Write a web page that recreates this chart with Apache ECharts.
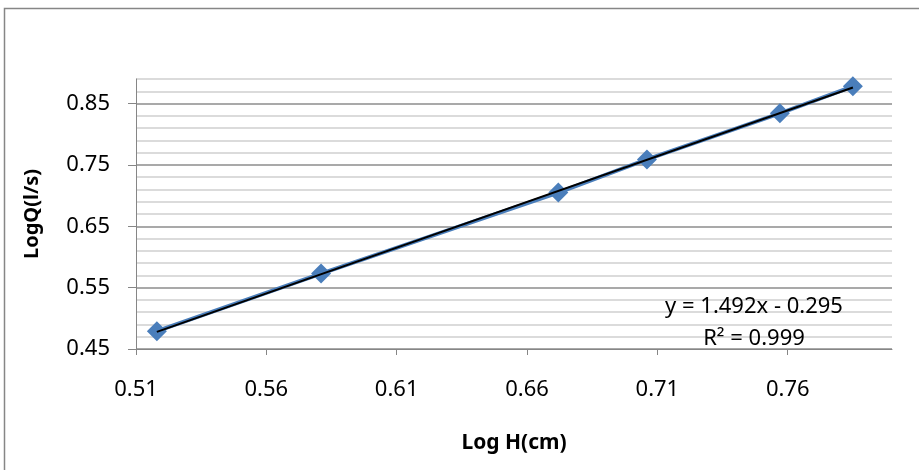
<!DOCTYPE html>
<html>
<head>
<meta charset="utf-8">
<title>LogQ vs Log H</title>
<script src="https://cdn.jsdelivr.net/npm/echarts@6/dist/echarts.min.js"></script>
<style>
  html, body { margin: 0; padding: 0; background: #fff; }
  #chart { width: 919px; height: 470px; }
</style>
</head>
<body>
<div id="chart"></div>
<script>
// measured points
var logH = [0.518, 0.581, 0.672, 0.706, 0.757, 0.785]
var logQ = [0.479, 0.573, 0.705, 0.759, 0.834, 0.878]

// trendline from the sheet
var slope = 1.492
var intercept = -0.295
var rSquared = 0.999

// axis ticks
var xTicks = [0.51, 0.56, 0.61, 0.66, 0.71, 0.76]
var yTicks = [0.45, 0.55, 0.65, 0.75, 0.85]
var yMinor = [0.47, 0.49, 0.51, 0.53, 0.57, 0.59, 0.61, 0.63, 0.67, 0.69, 0.71, 0.73,
  0.77, 0.79, 0.81, 0.83, 0.87, 0.89]

var points = logH.map(function (x, i) { return [x, logQ[i]] })
var xFrom = Math.min.apply(null, logH)
var xTo = Math.max.apply(null, logH)
var trend = [[xFrom, slope * xFrom + intercept], [xTo, slope * xTo + intercept]]

var font = '"Noto Sans", "Open Sans", sans-serif'
var chart = echarts.init(document.getElementById('chart'))
chart.setOption({
  backgroundColor: '#fff',
  animation: false,
  grid: { left: 136, right: 27, top: 79, bottom: 121, outerBoundsMode: 'none' },
  xAxis: {
    type: 'value',
    min: 0.51,
    max: 0.80,
    name: 'Log H(cm)',
    nameLocation: 'middle',
    nameGap: 84,
    nameTextStyle: { color: '#000', fontSize: 21, fontWeight: 'bold', fontFamily: font },
    axisLine: { show: true, lineStyle: { color: '#868686', width: 1 } },
    axisTick: { show: true, inside: false, length: 6, customValues: xTicks, lineStyle: { color: '#868686' } },
    axisLabel: { customValues: xTicks, color: '#000', fontSize: 22, fontFamily: font, margin: 30,
      formatter: function (v) { return v.toFixed(2) } },
    splitLine: { show: false }
  },
  yAxis: [{
    type: 'value',
    min: 0.45,
    max: 0.89,
    name: 'LogQ(l/s)',
    nameLocation: 'middle',
    nameGap: 94,
    nameRotate: 90,
    nameTextStyle: { color: '#000', fontSize: 20, fontWeight: 'bold', fontFamily: font },
    axisLine: { show: true, lineStyle: { color: '#868686', width: 1 } },
    axisTick: { show: true, inside: false, length: 8, customValues: yTicks, lineStyle: { color: '#868686' } },
    axisLabel: { customValues: yTicks, color: '#000', fontSize: 22, fontFamily: font, margin: 26,
      formatter: function (v) { return v.toFixed(2) } },
    splitLine: { show: true, lineStyle: { color: '#8c8c8c', width: 1.5 } }
  }, {
    type: 'value',
    min: 0.45,
    max: 0.89,
    position: 'left',
    axisLine: { show: false },
    axisTick: { show: false, customValues: yMinor },
    axisLabel: { show: false, customValues: yMinor },
    splitLine: { show: true, lineStyle: { color: '#cfcfcf', width: 1.5 } }
  }],
  graphic: [{
    type: 'rect',
    silent: true,
    shape: { x: 4.5, y: 8.5, width: 2000, height: 2000 },
    style: { fill: 'none', stroke: '#868686', lineWidth: 1.5 }
  }, {
    type: 'text',
    x: 754,
    y: 307,
    z: 10,
    style: {
      text: 'y = ' + slope.toFixed(3) + 'x - ' + Math.abs(intercept).toFixed(3),
      fill: '#000', font: '22px ' + font, align: 'center', verticalAlign: 'middle'
    }
  }, {
    type: 'text',
    x: 754,
    y: 339,
    z: 10,
    style: {
      text: 'R² = ' + rSquared.toFixed(3),
      fill: '#000', font: '22px ' + font, align: 'center', verticalAlign: 'middle'
    }
  }],
  series: [{
    type: 'line',
    data: points,
    symbol: 'diamond',
    symbolSize: [20, 20],
    color: '#4a7ebb',
    itemStyle: { color: '#4a7ebb' },
    lineStyle: { color: '#4a7ebb', width: 4 },
    z: 3
  }, {
    type: 'line',
    data: trend,
    symbol: 'none',
    lineStyle: { color: '#000', width: 2 },
    z: 4
  }]
})
window.onresize = function () {
  chart.resize()
}
</script>
</body>
</html>
